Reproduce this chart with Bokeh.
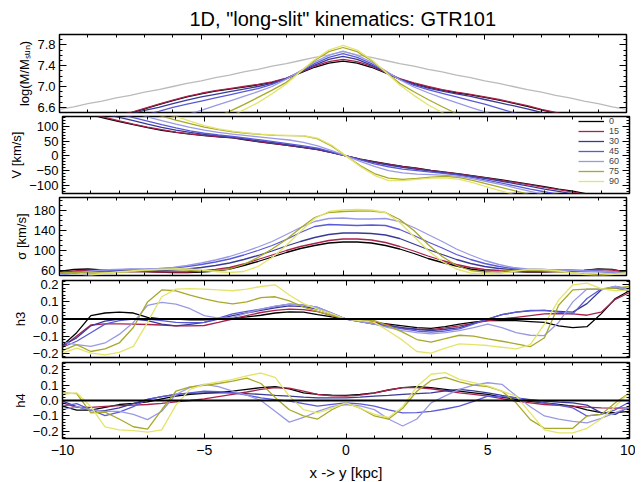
import numpy as np
from bokeh.plotting import figure
from bokeh.layouts import column, row
from bokeh.models import (Range1d, LinearAxis, FixedTicker, CustomJSTickFormatter,
                          Span, Legend, LegendItem, Spacer)
from bokeh.embed import file_html
from bokeh.resources import INLINE

# ---------------- data ----------------
X = [-10.0, -9.5, -9.0, -8.5, -8.0, -7.5, -7.0, -6.5, -6.0, -5.5, -5.0, -4.5, -4.0, -3.5,
     -3.0, -2.5, -2.0, -1.5, -1.0, -0.5, 0.0, 0.5, 1.0, 1.5, 2.0, 2.5, 3.0, 3.5, 4.0, 4.5,
     5.0, 5.5, 6.0, 6.5, 7.0, 7.5, 8.0, 8.5, 9.0, 9.5, 10.0]

INCL = ["0", "15", "30", "45", "60", "75", "90"]
COLORS = ["#000000", "#a8224c", "#3a3a96", "#5a5ad8", "#9a9ae4", "#a8a82a", "#e4e46c"]
GRAY = "#bbbbbb"

# log(M/Msun)
mass_ref = [6.56, 6.61, 6.67, 6.72, 6.78, 6.83, 6.89, 6.94, 7.00, 7.06, 7.11, 7.17, 7.22, 7.28,
            7.33, 7.39, 7.44, 7.50, 7.56, 7.61, 7.67, 7.61, 7.56, 7.50, 7.44, 7.39, 7.33, 7.28,
            7.22, 7.17, 7.11, 7.06, 7.00, 6.94, 6.89, 6.83, 6.78, 6.72, 6.67, 6.61, 6.56]
m0 = [6.19, 6.25, 6.31, 6.37, 6.43, 6.49, 6.57, 6.65, 6.73, 6.80, 6.86, 6.91, 6.95, 6.99, 7.03,
      7.08, 7.15, 7.26, 7.37, 7.45, 7.49, 7.45, 7.37, 7.26, 7.14, 7.06, 6.99, 6.93, 6.88, 6.84,
      6.79, 6.74, 6.68, 6.62, 6.55, 6.49, 6.43, 6.37, 6.31, 6.25, 6.19]
m15 = [6.20, 6.26, 6.32, 6.38, 6.44, 6.50, 6.58, 6.66, 6.74, 6.81, 6.87, 6.92, 6.96, 7.00, 7.04,
       7.09, 7.16, 7.27, 7.39, 7.48, 7.52, 7.48, 7.39, 7.27, 7.15, 7.07, 7.00, 6.94, 6.89, 6.85,
       6.80, 6.75, 6.69, 6.63, 6.56, 6.50, 6.44, 6.38, 6.32, 6.26, 6.20]
m30 = [6.10, 6.17, 6.24, 6.31, 6.39, 6.47, 6.54, 6.60, 6.67, 6.74, 6.80, 6.85, 6.90, 6.95, 7.00,
       7.06, 7.15, 7.28, 7.41, 7.52, 7.58, 7.52, 7.41, 7.28, 7.14, 7.04, 6.97, 6.91, 6.86, 6.81,
       6.75, 6.69, 6.63, 6.57, 6.50, 6.43, 6.36, 6.29, 6.22, 6.15, 6.08]
m45 = [5.95, 6.03, 6.11, 6.20, 6.29, 6.37, 6.45, 6.52, 6.60, 6.66, 6.72, 6.78, 6.84, 6.90, 6.96,
       7.04, 7.15, 7.29, 7.44, 7.56, 7.63, 7.56, 7.44, 7.29, 7.14, 7.02, 6.94, 6.87, 6.80, 6.73,
       6.66, 6.58, 6.50, 6.42, 6.34, 6.26, 6.18, 6.10, 6.02, 5.94, 5.86]
m60 = [5.70, 5.79, 5.88, 5.97, 6.06, 6.14, 6.22, 6.30, 6.38, 6.46, 6.54, 6.63, 6.72, 6.81, 6.90,
       7.00, 7.14, 7.30, 7.47, 7.60, 7.68, 7.60, 7.47, 7.30, 7.13, 6.99, 6.88, 6.78, 6.69, 6.60,
       6.51, 6.42, 6.33, 6.24, 6.15, 6.06, 5.97, 5.88, 5.79, 5.70, 5.61]
m75 = [5.50, 5.60, 5.70, 5.80, 5.90, 6.00, 6.08, 6.15, 6.21, 6.27, 6.33, 6.41, 6.52, 6.65, 6.79,
       6.93, 7.08, 7.29, 7.50, 7.67, 7.75, 7.67, 7.50, 7.28, 7.06, 6.90, 6.75, 6.61, 6.48, 6.36,
       6.26, 6.16, 6.07, 5.98, 5.89, 5.80, 5.71, 5.62, 5.53, 5.44, 5.35]
m90 = [5.40, 5.50, 5.60, 5.70, 5.80, 5.89, 5.97, 6.04, 6.11, 6.18, 6.25, 6.33, 6.42, 6.55, 6.69,
       6.86, 7.05, 7.29, 7.52, 7.70, 7.79, 7.70, 7.52, 7.28, 7.03, 6.83, 6.65, 6.50, 6.37, 6.26,
       6.16, 6.06, 5.97, 5.88, 5.79, 5.70, 5.61, 5.52, 5.43, 5.34, 5.25]

# V [km/s]
v0 = [165, 152, 140, 128, 117, 106, 96, 87, 80, 74, 69, 65, 61, 54, 47, 41, 35, 28, 21, 11, 0,
      -11, -20, -28, -36, -42, -49, -55, -61, -68, -75, -82, -89, -97, -105, -113, -120, -129,
      -138, -148, -158]
v15 = [168, 155, 143, 131, 119, 108, 98, 89, 81, 75, 70, 66, 62, 55, 48, 42, 35, 29, 21, 11, 0,
       -11, -21, -29, -37, -43, -50, -56, -62, -69, -76, -84, -91, -99, -107, -115, -123, -132,
       -141, -151, -161]
v30 = [180, 166, 153, 141, 131, 120, 108, 97, 88, 80, 73, 68, 63, 57, 50, 44, 37, 30, 23, 12, 0,
       -12, -23, -31, -39, -46, -52, -58, -64, -71, -78, -87, -95, -104, -113, -121, -129, -138,
       -147, -157, -167]
v45 = [190, 178, 166, 153, 142, 130, 118, 106, 95, 85, 77, 71, 66, 60, 54, 48, 41, 34, 26, 14, 0,
       -14, -27, -37, -45, -50, -55, -60, -66, -74, -83, -93, -103, -113, -122, -131, -140, -149,
       -158, -167, -176]
v60 = [205, 192, 180, 168, 157, 145, 133, 120, 108, 97, 88, 80, 74, 69, 64, 59, 54, 46, 34, 18, 0,
       -19, -36, -50, -58, -62, -64, -66, -70, -78, -88, -98, -110, -121, -132, -143, -154, -165,
       -176, -187, -198]
v75 = [225, 212, 199, 186, 173, 160, 147, 135, 122, 110, 98, 89, 82, 77, 73, 70, 69, 68, 58, 33, 0,
       -33, -60, -76, -80, -77, -72, -70, -74, -84, -96, -108, -120, -132, -144, -156, -168, -180,
       -192, -204, -216]
v90 = [230, 215, 200, 186, 172, 160, 152, 143, 134, 118, 103, 92, 84, 78, 74, 71, 70, 69, 60, 36, 0,
       -36, -66, -84, -84, -80, -76, -75, -80, -92, -106, -120, -133, -146, -159, -172, -185, -198,
       -211, -224, -237]

# sigma [km/s]
s0 = [58, 62, 63, 61, 59, 58, 58, 57, 56, 56, 57, 59, 63, 70, 78, 87, 96, 104, 110, 115, 117,
      117, 115, 110, 103, 94, 84, 76, 69, 63, 59, 58, 58, 57, 57, 58, 58, 60, 63, 62, 56]
s15 = [56, 59, 61, 60, 59, 58, 58, 57, 57, 57, 59, 62, 66, 73, 82, 91, 100, 108, 114, 120, 123,
       123, 121, 116, 108, 99, 89, 80, 72, 66, 62, 60, 59, 58, 58, 58, 59, 60, 62, 61, 58]
s30 = [54, 56, 58, 59, 60, 60, 60, 60, 61, 63, 66, 70, 75, 82, 90, 99, 109, 118, 126, 132, 135,
       135, 134, 131, 124, 113, 102, 92, 82, 74, 68, 64, 62, 61, 60, 60, 59, 58, 58, 57, 55]
s45 = [52, 55, 58, 60, 61, 62, 62, 63, 65, 68, 72, 77, 83, 91, 100, 110, 122, 136, 148, 152, 151,
       150, 151, 150, 142, 130, 117, 105, 92, 82, 74, 68, 64, 62, 62, 61, 61, 60, 59, 57, 55]
s60 = [52, 55, 58, 61, 62, 63, 63, 64, 66, 70, 75, 81, 88, 97, 107, 118, 132, 146, 158, 164, 165,
       163, 163, 164, 158, 146, 132, 118, 103, 91, 80, 72, 66, 63, 62, 61, 60, 59, 58, 57, 55]
s75 = [55, 56, 55, 55, 56, 58, 60, 62, 62, 61, 59, 60, 63, 72, 86, 103, 122, 145, 166, 176, 178,
       179, 179, 176, 162, 140, 112, 88, 70, 60, 57, 58, 60, 61, 60, 58, 56, 53, 52, 53, 55]
s90 = [46, 46, 49, 54, 57, 59, 61, 62, 63, 63, 61, 58, 56, 58, 68, 86, 110, 138, 164, 178, 181,
       182, 181, 176, 156, 128, 100, 78, 63, 55, 53, 54, 58, 62, 62, 60, 56, 52, 49, 52, 55]

# h3
h3_0 = [-0.155, -0.08, 0.02, 0.035, 0.04, 0.035, 0.01, 0.0, 0.0, -0.005, -0.005, 0.0, 0.005,
        0.012, 0.022, 0.035, 0.042, 0.04, 0.025, 0.012, 0.0, -0.01, -0.02, -0.03, -0.04, -0.05,
        -0.055, -0.045, -0.03, -0.018, -0.01, -0.008, -0.01, -0.015, -0.02, -0.04, -0.05, -0.045,
        0.03, 0.12, 0.165]
h3_15 = [-0.165, -0.10, -0.035, -0.028, -0.028, -0.03, -0.032, -0.035, -0.04, -0.04, -0.038,
         -0.02, 0.0, 0.02, 0.038, 0.05, 0.058, 0.055, 0.043, 0.02, 0.0, -0.01, -0.02, -0.035,
         -0.055, -0.06, -0.062, -0.052, -0.04, -0.025, -0.01, 0.0, 0.01, 0.02, 0.03, 0.032, 0.03,
         0.022, 0.04, 0.115, 0.155]
h3_30 = [-0.155, -0.11, -0.04, -0.012, 0.0, 0.0, -0.01, -0.03, -0.04, -0.032, -0.02, 0.0, 0.02,
         0.036, 0.05, 0.065, 0.077, 0.072, 0.058, 0.03, 0.0, -0.015, -0.03, -0.04, -0.05, -0.06,
         -0.068, -0.06, -0.05, -0.025, 0.0, 0.025, 0.04, 0.048, 0.05, 0.045, 0.04, 0.09, 0.17,
         0.19, 0.175]
h3_45 = [-0.165, -0.13, -0.08, -0.03, -0.01, 0.0, 0.0, -0.01, -0.02, -0.022, -0.02, 0.005, 0.03,
         0.045, 0.058, 0.073, 0.087, 0.082, 0.068, 0.035, 0.0, -0.015, -0.03, -0.045, -0.058,
         -0.07, -0.077, -0.07, -0.058, -0.03, 0.0, 0.025, 0.04, 0.05, 0.05, 0.04, 0.03, 0.12,
         0.175, 0.18, 0.165]
h3_60 = [-0.135, -0.15, -0.16, -0.14, -0.09, -0.02, 0.08, 0.097, 0.087, 0.06, 0.02, 0.005, 0.01,
         0.035, 0.058, 0.075, 0.087, 0.082, 0.068, 0.035, 0.0, -0.015, -0.03, -0.05, -0.068,
         -0.08, -0.087, -0.08, -0.068, -0.05, -0.03, -0.05, -0.08, -0.095, -0.097, -0.02, 0.1,
         0.175, 0.175, 0.19, 0.175]
h3_75 = [-0.185, -0.15, -0.19, -0.175, -0.14, -0.05, 0.1, 0.17, 0.165, 0.14, 0.118, 0.1, 0.088,
         0.1, 0.125, 0.13, 0.106, 0.07, 0.045, 0.02, 0.0, -0.005, -0.01, -0.04, -0.077, -0.12,
         -0.135, -0.115, -0.095, -0.1, -0.116, -0.13, -0.145, -0.162, -0.11, 0.08, 0.17, 0.175,
         0.175, 0.18, 0.19]
h3_90 = [-0.2, -0.17, -0.2, -0.21, -0.195, -0.16, -0.02, 0.13, 0.175, 0.178, 0.175, 0.17, 0.165,
         0.175, 0.19, 0.2, 0.14, 0.09, 0.058, 0.03, 0.0, -0.01, -0.02, -0.07, -0.125, -0.19, -0.2,
         -0.17, -0.145, -0.15, -0.155, -0.165, -0.174, -0.15, -0.03, 0.11, 0.2, 0.21, 0.178,
         0.165, 0.17]

# h4
h4_0 = [-0.037, -0.062, -0.062, -0.045, -0.026, -0.018, -0.009, 0.01, 0.028, 0.04, 0.046, 0.053,
        0.061, 0.072, 0.083, 0.089, 0.075, 0.05, 0.039, 0.035, 0.033, 0.04, 0.05, 0.068, 0.083,
        0.089, 0.083, 0.072, 0.061, 0.05, 0.039, 0.022, 0.007, -0.005, -0.015, -0.026, -0.037,
        -0.06, -0.078, -0.078, -0.07]
h4_15 = [-0.015, -0.045, -0.045, -0.038, -0.033, -0.03, -0.026, -0.018, -0.009, 0.0, 0.011,
         0.025, 0.039, 0.055, 0.072, 0.083, 0.08, 0.06, 0.039, 0.03, 0.028, 0.035, 0.048, 0.068,
         0.083, 0.083, 0.076, 0.063, 0.05, 0.04, 0.028, 0.012, -0.004, -0.015, -0.026, -0.032,
         -0.037, -0.043, -0.048, -0.05, -0.048]
h4_30 = [-0.004, -0.04, -0.065, -0.065, -0.048, -0.02, 0.007, 0.025, 0.039, 0.046, 0.05, 0.05,
         0.05, 0.045, 0.039, 0.033, 0.028, 0.022, 0.017, 0.017, 0.017, 0.022, 0.028, 0.033, 0.039,
         0.045, 0.05, 0.062, 0.072, 0.062, 0.05, 0.033, 0.017, 0.005, -0.004, -0.01, -0.015,
         -0.03, -0.08, -0.09, -0.04]
h4_45 = [-0.037, -0.02, -0.06, -0.098, -0.075, -0.04, 0.007, 0.025, 0.039, 0.05, 0.061, 0.058,
         0.05, 0.035, 0.017, 0.005, -0.004, -0.02, -0.037, -0.025, -0.015, -0.022, -0.037, -0.06,
         -0.08, -0.078, -0.07, -0.055, -0.037, -0.005, 0.028, 0.025, 0.017, 0.0, -0.015, -0.03,
         -0.048, -0.1, -0.09, -0.06, -0.01]
h4_60 = [-0.059, -0.04, -0.06, -0.07, -0.07, -0.09, -0.124, -0.07, 0.039, 0.085, 0.105, 0.09,
         0.061, 0.035, 0.0, -0.07, -0.14, -0.11, -0.07, -0.04, -0.026, -0.035, -0.059, -0.12,
         -0.165, -0.12, -0.015, 0.03, 0.072, 0.1, 0.115, 0.105, 0.03, -0.04, -0.1, -0.12, -0.135,
         -0.145, -0.115, -0.08, -0.04]
h4_75 = [0.05, 0.045, -0.08, -0.075, -0.12, -0.17, -0.185, -0.06, 0.06, 0.088, 0.098, 0.11,
         0.126, 0.145, 0.11, 0.02, -0.06, -0.1, -0.12, -0.06, -0.015, -0.05, -0.1, -0.12, -0.05,
         0.06, 0.13, 0.15, 0.12, 0.1, 0.09, 0.06, -0.015, -0.124, -0.18, -0.18, -0.18, -0.1,
         -0.09, -0.015, 0.05]
h4_90 = [0.039, 0.05, -0.04, -0.17, -0.19, -0.195, -0.205, -0.19, -0.03, 0.072, 0.105, 0.12,
         0.137, 0.16, 0.178, 0.15, 0.028, -0.059, -0.08, -0.05, -0.015, -0.05, -0.09, -0.11, -0.04,
         0.09, 0.17, 0.18, 0.137, 0.115, 0.094, 0.06, 0.028, -0.08, -0.19, -0.21, -0.21, -0.18,
         -0.12, -0.037, 0.05]

MASS = [m0, m15, m30, m45, m60, m75, m90]
VEL = [v0, v15, v30, v45, v60, v75, v90]
SIG = [s0, s15, s30, s45, s60, s75, s90]
H3 = [h3_0, h3_15, h3_30, h3_45, h3_60, h3_75, h3_90]
H4 = [h4_0, h4_15, h4_30, h4_45, h4_60, h4_75, h4_90]

X_MAJOR = [-10, -5, 0, 5, 10]
X_MINOR = [-10, -9, -8, -7, -6, -5, -4, -3, -2, -1, 0, 1, 2, 3, 4, 5, 6, 7, 8, 9, 10]

# ---------------- styling ----------------
FONT = "Liberation Sans"
FRAME_W = 567
LEFT = 59
LW = 1.3


def tick_fmt(dec):
    return CustomJSTickFormatter(code=(
        "var s = tick.toFixed(%d); if (parseFloat(s) == 0) { s = (0).toFixed(%d); }"
        " return s.replace('-', '\u2212');" % (dec, dec)))


def blank_fmt():
    return CustomJSTickFormatter(code="return '';")


def ax_common(ax):
    ax.axis_line_color = None
    ax.major_tick_in = 7
    ax.major_tick_out = 0
    ax.minor_tick_in = 3
    ax.minor_tick_out = 0
    ax.major_tick_line_color = "black"
    ax.minor_tick_line_color = "black"
    ax.major_tick_line_width = 1
    ax.minor_tick_line_width = 1


def make_panel(yr, fh, majors, minor_step, dec, ylabel, btop, bbot, pad, xlabels=False):
    p = figure(frame_width=FRAME_W, frame_height=fh,
               x_range=Range1d(-10, 10), y_range=Range1d(yr[0], yr[1]),
               x_axis_location=None, y_axis_location=None,
               toolbar_location=None, output_backend="svg",
               min_border_left=LEFT - pad, min_border_right=6,
               min_border_top=btop, min_border_bottom=bbot,
               outline_line_color="black", outline_line_width=1.5,
               background_fill_color="white", border_fill_color="white")
    p.grid.visible = False
    start = np.floor(yr[0] / minor_step) * minor_step
    minors = [round(float(v), 5) for v in np.arange(start, yr[1] + minor_step, minor_step)]
    yt = FixedTicker(ticks=majors, minor_ticks=minors)

    yl = LinearAxis(ticker=yt, formatter=tick_fmt(dec), axis_label=ylabel)
    ax_common(yl)
    yl.major_label_text_font = FONT
    yl.major_label_text_font_size = "13px"
    yl.major_label_text_color = "black"
    yl.major_label_standoff = 4
    yl.axis_label_text_font = FONT
    yl.axis_label_text_font_size = "13px"
    yl.axis_label_text_font_style = "normal"
    yl.axis_label_text_color = "black"
    yl.axis_label_standoff = 2
    p.add_layout(yl, "left")

    yrx = LinearAxis(ticker=FixedTicker(ticks=majors, minor_ticks=minors), formatter=blank_fmt())
    ax_common(yrx)
    yrx.major_label_text_font_size = "0px"
    yrx.major_label_standoff = 0
    p.add_layout(yrx, "right")

    xt_ = LinearAxis(ticker=FixedTicker(ticks=X_MAJOR, minor_ticks=X_MINOR), formatter=blank_fmt())
    ax_common(xt_)
    xt_.major_tick_in = 5
    xt_.major_label_text_font_size = "0px"
    xt_.major_label_standoff = 0
    p.add_layout(xt_, "above")

    xb = LinearAxis(ticker=FixedTicker(ticks=X_MAJOR, minor_ticks=X_MINOR))
    ax_common(xb)
    xb.major_tick_in = 5
    if xlabels:
        xb.formatter = tick_fmt(0)
        xb.major_label_text_font = FONT
        xb.major_label_text_font_size = "14px"
        xb.major_label_text_color = "black"
        xb.major_label_standoff = 6
        xb.axis_label = "x -> y [kpc]"
        xb.axis_label_text_font = FONT
        xb.axis_label_text_font_size = "15px"
        xb.axis_label_text_font_style = "normal"
        xb.axis_label_text_color = "black"
        xb.axis_label_standoff = 6
    else:
        xb.formatter = blank_fmt()
        xb.major_label_text_font_size = "0px"
        xb.major_label_standoff = 0
    p.add_layout(xb, "below")
    return p


# ---------------- panels ----------------
PADS = [9, 6, 6, 9, 9]

p1 = make_panel((6.5, 8.0), 78, [6.6, 7.0, 7.4, 7.8], 0.1, 1,
                "log(M/M\u209b\u1d64\u2099)", 27, 2, PADS[0])
p1.title.text = '1D, "long-slit" kinematics: GTR101'
p1.title.align = "left"
p1.title.offset = 130
p1.title.text_font = FONT
p1.title.text_font_size = "20px"
p1.title.text_font_style = "normal"
p1.title.text_color = "black"
p1.line(X, mass_ref, line_color=GRAY, line_width=LW)
for ys, c in zip(MASS, COLORS):
    p1.line(X, ys, line_color=c, line_width=LW)

p2 = make_panel((-128, 134), 77, [-100, -50, 0, 50, 100], 10, 0, "V [km/s]", 2, 2, PADS[1])
items = []
for ys, c, lab in zip(VEL, COLORS, INCL):
    r = p2.line(X, ys, line_color=c, line_width=LW)
    items.append(LegendItem(label=lab, renderers=[r]))
leg = Legend(items=items, location="top_right", margin=0, padding=1, spacing=0,
             border_line_color=None, background_fill_alpha=0,
             label_text_font=FONT, label_text_font_size="9px",
             glyph_width=26, glyph_height=8, label_height=8, label_width=20,
             label_standoff=5)
p2.add_layout(leg)

p3 = make_panel((50, 206), 78, [60, 100, 140, 180], 10, 0, "\u03c3 [km/s]", 2, 2, PADS[2])
for ys, c in zip(SIG, COLORS):
    p3.line(X, ys, line_color=c, line_width=LW)

p4 = make_panel((-0.225, 0.225), 77, [-0.2, -0.1, 0.0, 0.1, 0.2], 0.02, 1, "h3", 3, 4, PADS[3])
for ys, c in zip(H3, COLORS):
    p4.line(X, ys, line_color=c, line_width=LW)
p4.add_layout(Span(location=0, dimension="width", line_color="black", line_width=2))

p5 = make_panel((-0.246, 0.246), 76, [-0.2, -0.1, 0.0, 0.1, 0.2], 0.02, 1, "h4", 1, 30,
                PADS[4], xlabels=True)
for ys, c in zip(H4, COLORS):
    p5.line(X, ys, line_color=c, line_width=LW)
p5.add_layout(Span(location=0, dimension="width", line_color="black", line_width=2))

rows = [row(Spacer(width=pad, height=1), p, spacing=0)
        for pad, p in zip(PADS, [p1, p2, p3, p4, p5])]
layout = column(*rows, spacing=0)
open("out.html", "w").write(file_html(layout, INLINE))
